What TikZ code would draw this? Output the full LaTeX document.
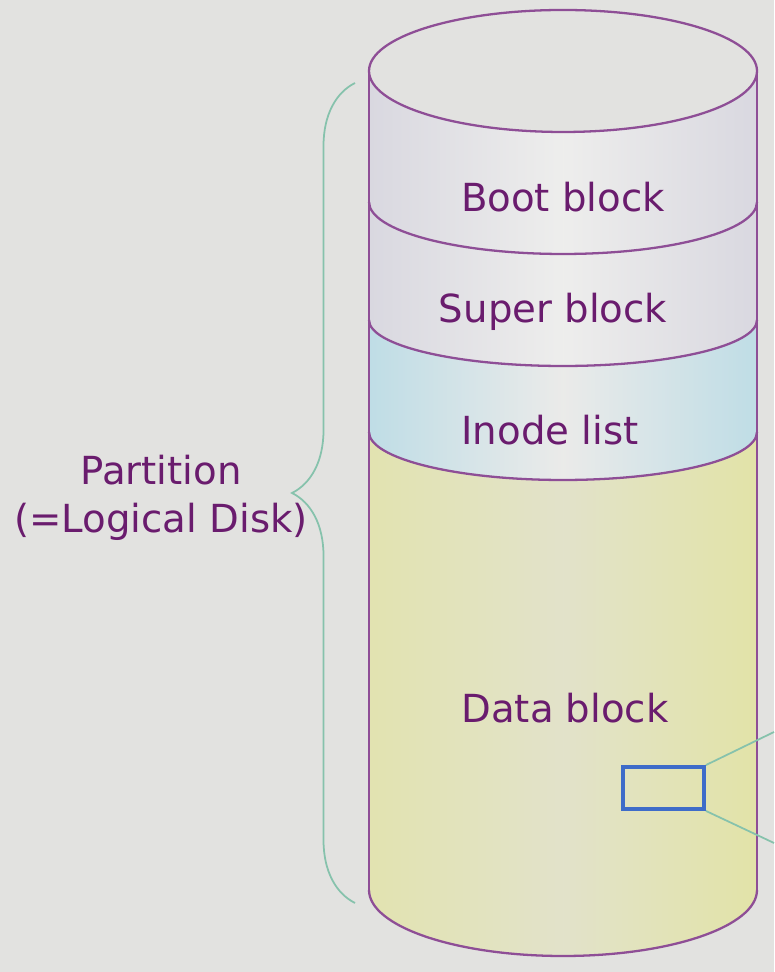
\documentclass[tikz,border=0pt]{standalone}
\usepackage{fontspec}
\setmainfont{DejaVu Sans}
\usetikzlibrary{decorations.pathreplacing}
\definecolor{bg}{HTML}{E2E2E0}
\definecolor{disk}{HTML}{8E4E96}
\definecolor{txt}{HTML}{6A1C6E}
\definecolor{bootc}{HTML}{D9D8E0}
\definecolor{inodec}{HTML}{BFDDE6}
\definecolor{datac}{HTML}{E2E3A8}
\definecolor{bracec}{HTML}{86C2AC}
\definecolor{blkc}{HTML}{3E6CC9}
\begin{document}
\begin{tikzpicture}[x=0.02cm, y=0.02cm]
    \tikzstyle{lbl}=[text=txt, font=\fontsize{22}{27}\selectfont, align=center]
    \tikzstyle{edge}=[draw=disk, line width=1.3pt]
    \tikzstyle{bootsh}=[left color=bootc, right color=bootc, middle color=bg!60!white]
    \tikzstyle{inodesh}=[left color=inodec, right color=inodec, middle color=bg!70!white]
    \tikzstyle{datash}=[left color=datac!85!bg, right color=datac, middle color=datac!40!bg]

    \useasboundingbox (0,0) rectangle (774,972);
    \fill[bg] (0,0) rectangle (774,972);

    % bands of the disk: top y, top ry, bottom y, bottom ry, shading
    \foreach \ya/\ra/\yb/\rb/\sh in {901/61/770/52/bootsh, 770/52/652/46/bootsh, 652/46/540/48/inodesh, 540/48/82/66/datash}
        \path[\sh] (757,\ya) arc[start angle=0, end angle=-180, x radius=194, y radius=\ra]
            -- (369,\yb) arc[start angle=180, end angle=360, x radius=194, y radius=\rb] -- cycle;

    % outline
    \draw[edge, fill=bg] (563,901) ellipse[x radius=194, y radius=61];
    \foreach \y/\r in {770/52, 652/46, 540/48, 82/66}
        \draw[edge] (369,\y) arc[start angle=180, end angle=360, x radius=194, y radius=\r];
    \draw[edge] (369,901) -- (369,82);
    \draw[edge] (757,901) -- (757,82);

    \node[lbl] (boot) at (563,775) {Boot block};
    \node[lbl] (super) at (553,660) {Super block};
    \node[lbl] (inode) at (550,542) {Inode list};
    \node[lbl] (data) at (565,264) {Data block};
    \node[lbl] (part) at (161,474) {Partition\\(=Logical Disk)};

    \draw[bracec, line width=1pt, decorate, decoration={brace, amplitude=1.26cm}] (355,69) -- (355,889);

    \node[draw=blkc, line width=2.2pt, minimum width=1.62cm, minimum height=0.84cm, inner sep=0pt] (blk) at (663.5,184) {};
    \coordinate (outa) at (774,240);
    \coordinate (outb) at (774,129);
    \draw[bracec, line width=1pt] (blk.north east) -- (outa);
    \draw[bracec, line width=1pt] (blk.south east) -- (outb);
\end{tikzpicture}
\end{document}
